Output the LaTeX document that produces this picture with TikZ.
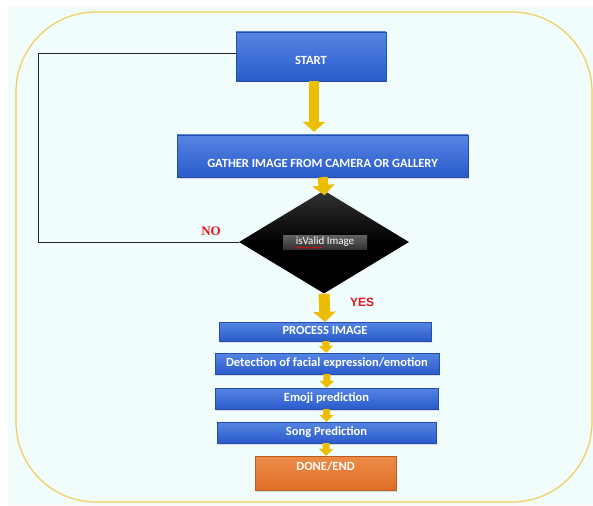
\documentclass[tikz,border=0pt]{standalone}
\usepackage{fontspec}
\setmainfont{Carlito}
\newfontfamily\nofont{Liberation Serif}
\newfontfamily\yesfont{Liberation Sans}
\usetikzlibrary{shapes.geometric,arrows.meta,shadows,decorations.pathmorphing}
\definecolor{bgcyan}{HTML}{F1FCFD}
\definecolor{frameyellow}{HTML}{F0CF55}
\definecolor{boxtop}{HTML}{5585E2}
\definecolor{boxbot}{HTML}{2A5BCB}
\definecolor{donetop}{HTML}{EE8C48}
\definecolor{donebot}{HTML}{DC6E27}
\definecolor{flowgold}{HTML}{EDBE00}
\definecolor{labred}{HTML}{E3141B}
\tikzset{
  stepbox/.style={rectangle, top color=boxtop, bottom color=boxbot,
    draw=boxbot!85!black, line width=0.3pt, text=white, inner sep=0pt,
    font=\fontsize{12.5}{14}\selectfont\bfseries,
    drop shadow={opacity=0.25, shadow xshift=1pt, shadow yshift=-1.5pt}},
  donebox/.style={stepbox, top color=donetop, bottom color=donebot,
    draw=donebot!85!black},
  checkbox/.style={diamond, inner sep=0pt, top color=black!80,
    bottom color=black, middle color=black, draw=none},
  flow/.style={draw=flowgold, line width=10pt,
    -{Triangle[width=22pt,length=10pt,fill=flowgold]}},
  smallflow/.style={draw=flowgold, line width=7pt,
    -{Triangle[width=14pt,length=7pt,fill=flowgold]}},
  loopline/.style={draw=black!85, line width=0.9pt},
}
\begin{document}
\begin{tikzpicture}[x=1pt,y=-1pt]
  \useasboundingbox (0,0) rectangle (593,505);
  \fill[white] (0,0) rectangle (593,505);
  \fill[bgcyan] (8,7) rectangle (593,505);
  \draw[frameyellow, line width=1.2pt, rounded corners=80pt] (16,12) rectangle (592,502);

  \node[stepbox, minimum width=150pt, minimum height=49pt, text height=17pt, text depth=0pt]
    (start) at (311,56.5) {START};
  \node[stepbox, minimum width=291pt, minimum height=42pt, text height=22pt, text depth=0pt]
    (gather) at (322.5,156) {GATHER IMAGE FROM CAMERA OR GALLERY};
  \node[checkbox, minimum width=170pt, minimum height=103pt] (check) at (324,242) {};
  \node[rectangle, top color=black!62, bottom color=black!80, minimum width=84pt,
    minimum height=14pt, inner sep=0pt, text=white, font=\fontsize{11}{12}\selectfont]
    (lab) at (325,242) {isValid Image};
  \node[stepbox, minimum width=212pt, minimum height=19pt, text height=8.5pt, text depth=2pt]
    (process) at (325,331.5) {PROCESS IMAGE};
  \node[stepbox, minimum width=224pt, minimum height=21pt, text height=8.5pt, text depth=2pt]
    (detect) at (327,363.5) {Detection of facial expression/emotion};
  \node[stepbox, minimum width=223pt, minimum height=21pt, text height=8.5pt, text depth=2pt]
    (emoji) at (326.5,398.5) {Emoji prediction};
  \node[stepbox, minimum width=219pt, minimum height=21pt, text height=8.5pt, text depth=2pt]
    (song) at (326.5,432.5) {Song Prediction};
  \node[donebox, minimum width=141pt, minimum height=34pt, text height=8.5pt, text depth=14pt]
    (done) at (325.5,473) {DONE/END};

  \node[text=labred, font=\nofont\fontsize{13}{15}\selectfont\bfseries] (nolab) at (211,231) {NO};
  \node[text=labred, font=\yesfont\fontsize{12}{14}\selectfont\bfseries] (yeslab) at (362,302) {YES};

  \coordinate (loopx) at (38,0);
  \draw[loopline] (check.west) -- (check.west -| loopx) -- ([yshift=3pt]start.west -| loopx)
    -- ([yshift=3pt]start.west);

  \draw[red, line width=0.5pt, decorate, decoration={snake, amplitude=0.5pt, segment length=2.5pt}]
    ([xshift=12pt,yshift=1.5pt]lab.south west) -- ([xshift=39pt,yshift=1.5pt]lab.south west);

  \begin{scope}
    \draw[flow, shorten >=3pt] ([xshift=3pt]start.south) -- ([xshift=3pt]start.south |- gather.north);
    \draw[flow, shorten >=-5pt] (gather.south) -- (check.north);
    \draw[flow, line width=11pt] (check.south) -- (process.north);
    \draw[smallflow] (process) -- (detect);
    \draw[smallflow] (detect) -- (emoji);
    \draw[smallflow] (emoji) -- (song);
    \draw[smallflow] (song) -- (done);
  \end{scope}
\end{tikzpicture}
\end{document}
